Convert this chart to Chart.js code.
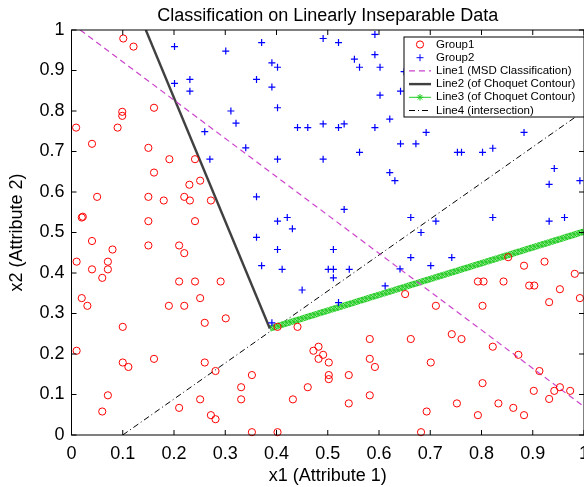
<!DOCTYPE html>
<html>
<head>
<title>Classification on Linearly Inseparable Data</title>
<script src="https://cdn.jsdelivr.net/npm/chart.js"></script>
<style>
  html, body { margin: 0; padding: 0; overflow: hidden; background: #fff; }
  #wrap { width: 640px; height: 487px; }
</style>
</head>
<body>
<div id="wrap"><canvas id="chart" width="640" height="487"></canvas></div>
<script>
// Group1 (red circles)
const group1X = [0.101, 0.121, 0.161, 0.099, 0.099, 0.009, 0.090, 0.040, 0.150, 0.191,
  0.241, 0.161, 0.251, 0.230, 0.050, 0.150, 0.180, 0.220, 0.231, 0.272,
  0.020, 0.022, 0.150, 0.241, 0.040, 0.080, 0.150, 0.210, 0.220, 0.010,
  0.071, 0.040, 0.071, 0.060, 0.210, 0.241, 0.291, 0.020, 0.031, 0.190,
  0.220, 0.251, 0.100, 0.260, 0.301, 0.010, 0.100, 0.111, 0.161, 0.260,
  0.281, 0.071, 0.060, 0.210, 0.251, 0.272, 0.281, 0.331, 0.331, 0.402,
  0.441, 0.582, 0.482, 0.472, 0.491, 0.482, 0.502, 0.582, 0.592, 0.352,
  0.502, 0.502, 0.541, 0.461, 0.432, 0.582, 0.541, 0.352, 0.402, 0.651,
  0.992, 0.932, 0.711, 0.802, 0.662, 0.742, 0.761, 0.822, 0.872, 0.701,
  0.913, 0.802, 0.902, 0.942, 0.953, 0.973, 0.932, 0.693, 0.752, 0.793,
  0.833, 0.862, 0.883, 0.682, 0.852, 0.883, 0.923, 0.982, 0.793, 0.804,
  0.843, 0.893, 0.903, 0.953];
const group1Y = [0.979, 0.959, 0.808, 0.798, 0.788, 0.759, 0.759, 0.719, 0.709, 0.681,
  0.681, 0.648, 0.628, 0.618, 0.588, 0.588, 0.579, 0.588, 0.579, 0.579,
  0.537, 0.539, 0.528, 0.528, 0.479, 0.458, 0.468, 0.468, 0.449, 0.428,
  0.428, 0.409, 0.409, 0.388, 0.379, 0.379, 0.379, 0.338, 0.319, 0.319,
  0.319, 0.338, 0.267, 0.277, 0.288, 0.208, 0.179, 0.168, 0.188, 0.179,
  0.158, 0.098, 0.058, 0.067, 0.088, 0.049, 0.039, 0.118, 0.088, 0.267,
  0.267, 0.237, 0.218, 0.208, 0.198, 0.188, 0.179, 0.188, 0.168, 0.148,
  0.148, 0.138, 0.148, 0.118, 0.088, 0.098, 0.078, 0.007, 0.007, 0.348,
  0.338, 0.328, 0.319, 0.319, 0.237, 0.249, 0.237, 0.218, 0.198, 0.179,
  0.158, 0.128, 0.109, 0.109, 0.118, 0.109, 0.089, 0.058, 0.078, 0.049,
  0.078, 0.067, 0.049, 0.007, 0.439, 0.418, 0.428, 0.398, 0.379, 0.379,
  0.379, 0.369, 0.369, 0.360];

// Group2 (blue pluses)
const group2X = [0.201, 0.301, 0.201, 0.231, 0.231, 0.311, 0.321, 0.260, 0.270, 0.371,
  0.491, 0.521, 0.592, 0.391, 0.402, 0.552, 0.592, 0.562, 0.602, 0.361,
  0.391, 0.642, 0.602, 0.402, 0.441, 0.461, 0.491, 0.521, 0.532, 0.592,
  0.621, 0.642, 0.340, 0.562, 0.402, 0.491, 0.649, 0.692, 0.672, 0.883,
  0.753, 0.761, 0.802, 0.822, 0.996, 0.942, 0.932, 0.992, 0.662, 0.711,
  0.682, 0.822, 0.932, 0.962, 0.662, 0.742, 0.701, 0.641, 0.621, 0.631,
  0.361, 0.532, 0.402, 0.421, 0.431, 0.361, 0.402, 0.511, 0.371, 0.411,
  0.501, 0.511, 0.542, 0.511, 0.450, 0.521, 0.612, 0.391];
const group2Y = [0.959, 0.948, 0.868, 0.878, 0.849, 0.800, 0.770, 0.749, 0.681, 0.969,
  0.979, 0.969, 0.989, 0.919, 0.908, 0.928, 0.939, 0.908, 0.908, 0.878,
  0.859, 0.849, 0.839, 0.808, 0.759, 0.759, 0.768, 0.759, 0.768, 0.759,
  0.780, 0.719, 0.709, 0.698, 0.681, 0.681, 0.897, 0.747, 0.719, 0.747,
  0.698, 0.698, 0.698, 0.708, 0.804, 0.658, 0.619, 0.628, 0.537, 0.528,
  0.500, 0.537, 0.528, 0.537, 0.438, 0.438, 0.418, 0.410, 0.648, 0.628,
  0.588, 0.557, 0.528, 0.537, 0.509, 0.488, 0.458, 0.458, 0.418, 0.409,
  0.409, 0.409, 0.409, 0.388, 0.358, 0.327, 0.368, 0.277];

// line end points
const line1X = [0.017, 1.0];
const line1Y = [1.0, 0.070];
const line2X = [0.145, 0.387];
const line2Y = [1.0, 0.263];
const line3X = [0.387, 1.0];
const line3Y = [0.263, 0.502];
const line4X = [0.100, 1.0];
const line4Y = [0.0, 0.80];

const FONT = 'Liberation Sans, Arial, Helvetica, sans-serif';

function pts(xs, ys) {
  return xs.map((v, i) => ({ x: v, y: ys[i] }));
}

// texture for the dense star markers of Line3
function starPattern() {
  const c = document.createElement('canvas');
  c.width = 4; c.height = 4;
  const g = c.getContext('2d');
  g.fillStyle = '#8ae88a';
  g.fillRect(0, 0, 4, 4);
  g.strokeStyle = '#1ec81e';
  g.lineWidth = 1;
  g.beginPath();
  g.moveTo(0, 2); g.lineTo(4, 2);
  g.moveTo(2, 0); g.lineTo(2, 4);
  g.moveTo(0, 0); g.lineTo(4, 4);
  g.stroke();
  return g.createPattern(c, 'repeat');
}

function drawMarker(ctx, kind, x, y, color) {
  ctx.save();
  ctx.strokeStyle = color;
  ctx.lineWidth = 1;
  ctx.setLineDash([]);
  ctx.beginPath();
  if (kind === 'circle') {
    ctx.arc(x, y, 3.6, 0, Math.PI * 2);
  } else if (kind === 'cross') {
    ctx.moveTo(x - 3.5, y); ctx.lineTo(x + 3.5, y);
    ctx.moveTo(x, y - 3.5); ctx.lineTo(x, y + 3.5);
  } else if (kind === 'star') {
    for (let k = 0; k < 4; k++) {
      const a = k * Math.PI / 4;
      ctx.moveTo(x - 3.3 * Math.cos(a), y - 3.3 * Math.sin(a));
      ctx.lineTo(x + 3.3 * Math.cos(a), y + 3.3 * Math.sin(a));
    }
  }
  ctx.stroke();
  ctx.restore();
}

const frame = {
  id: 'frame',
  afterDatasetsDraw(chart) {
    const { ctx, chartArea: a, scales: { x, y } } = chart;
    ctx.save();
    ctx.strokeStyle = '#000';
    ctx.lineWidth = 1;
    ctx.strokeRect(a.left, a.top, a.right - a.left, a.bottom - a.top);
    ctx.beginPath();
    x.ticks.forEach(t => {
      const p = x.getPixelForValue(t.value);
      ctx.moveTo(p, a.bottom); ctx.lineTo(p, a.bottom - 5);
      ctx.moveTo(p, a.top); ctx.lineTo(p, a.top + 5);
    });
    y.ticks.forEach(t => {
      const p = y.getPixelForValue(t.value);
      ctx.moveTo(a.left, p); ctx.lineTo(a.left + 5, p);
      ctx.moveTo(a.right, p); ctx.lineTo(a.right - 5, p);
    });
    ctx.stroke();
    ctx.restore();
  },
  afterDraw(chart) {
    // legend box in the upper right corner of the axes
    const { ctx, chartArea: a } = chart;
    const w = 180, h = 80, rowH = 13.2;
    const left = a.right - w, top = a.top + 7;
    ctx.save();
    ctx.fillStyle = '#fff';
    ctx.fillRect(left, top, w, h);
    ctx.strokeStyle = '#000';
    ctx.lineWidth = 1;
    ctx.strokeRect(left, top, w, h);
    ctx.font = '11.5px ' + FONT;
    ctx.textBaseline = 'middle';
    ctx.fillStyle = '#000';
    chart.data.datasets.forEach((ds, i) => {
      const cy = top + 7.5 + i * rowH;
      const x0 = left + 5, x1 = left + 27, cx = (x0 + x1) / 2;
      if (ds.showLine) {
        ctx.save();
        ctx.strokeStyle = ds.legendColor || ds.borderColor;
        ctx.lineWidth = ds.legendWidth || ds.borderWidth;
        ctx.setLineDash(ds.borderDash || []);
        ctx.beginPath();
        ctx.moveTo(x0, cy); ctx.lineTo(x1, cy);
        ctx.stroke();
        ctx.restore();
        if (ds.legendMarker) drawMarker(ctx, ds.legendMarker, cx, cy, ds.legendColor);
      } else {
        drawMarker(ctx, ds.pointStyle, cx, cy, ds.borderColor);
      }
      ctx.fillText(ds.label, left + 32, cy);
    });
    ctx.restore();
  }
};

const ctx = document.getElementById('chart').getContext('2d');
const tickFont = { family: FONT, size: 18 };
const fmt = v => String(+v.toFixed(1));

new Chart(ctx, {
  type: 'scatter',
  data: {
    datasets: [
      { label: 'Group1', data: pts(group1X, group1Y), pointStyle: 'circle', pointRadius: 3.6,
        borderColor: '#ff0000', backgroundColor: 'rgba(0,0,0,0)', pointBorderWidth: 1, clip: false },
      { label: 'Group2', data: pts(group2X, group2Y), pointStyle: 'cross', pointRadius: 3.5,
        borderColor: '#0000ff', backgroundColor: '#0000ff', pointBorderWidth: 1.2, clip: false },
      { label: 'Line1 (MSD Classification)', data: pts(line1X, line1Y), showLine: true, pointRadius: 0,
        borderColor: '#cc44cc', borderWidth: 1.2, borderDash: [6, 4] },
      { label: 'Line2 (of Choquet Contour)', data: pts(line2X, line2Y), showLine: true, pointRadius: 0,
        borderColor: '#404040', borderWidth: 2.4 },
      { label: 'Line3 (of Choquet Contour)', data: pts(line3X, line3Y), showLine: true, pointRadius: 0,
        borderColor: starPattern(), borderWidth: 6.5, legendColor: '#22cc22', legendWidth: 1, legendMarker: 'star' },
      { label: 'Line4 (intersection)', data: pts(line4X, line4Y), showLine: true, pointRadius: 0,
        borderColor: '#000000', borderWidth: 1, borderDash: [6, 3, 1, 3] }
    ]
  },
  options: {
    responsive: false,
    animation: false,
    events: [],
    layout: { padding: { top: 0, right: 56, bottom: 0, left: 0 } },
    plugins: {
      legend: { display: false },
      tooltip: { enabled: false },
      title: {
        display: true, text: 'Classification on Linearly Inseparable Data', fullSize: false,
        color: '#000', font: { family: FONT, size: 18, weight: 'normal' }, padding: { top: 5, bottom: 3.4 }
      }
    },
    scales: {
      x: {
        type: 'linear', min: 0, max: 1,
        ticks: { stepSize: 0.1, color: '#000', font: tickFont, padding: 8, maxRotation: 0, autoSkip: false, callback: fmt },
        grid: { display: false, drawTicks: false },
        border: { display: false },
        title: { display: true, text: 'x1 (Attribute 1)', color: '#000', font: tickFont, padding: 0 },
        afterFit(s) { s.height = 52; }
      },
      y: {
        type: 'linear', min: 0, max: 1,
        ticks: { stepSize: 0.1, color: '#000', font: tickFont, padding: 7, autoSkip: false, callback: fmt },
        grid: { display: false, drawTicks: false },
        border: { display: false },
        title: { display: true, text: 'x2 (Attribute 2)', color: '#000', font: tickFont, padding: { top: 6, bottom: 0 } },
        afterFit(s) { s.width = 71.5; }
      }
    }
  },
  plugins: [frame]
});
</script>
</body>
</html>
